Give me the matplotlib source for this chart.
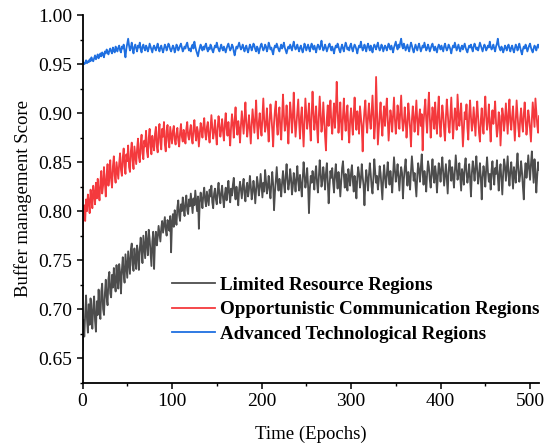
import numpy as np
import matplotlib
matplotlib.use("Agg")
import matplotlib.pyplot as plt
from matplotlib.ticker import MultipleLocator, FormatStrFormatter

# ---------------------------
# Data (one value per epoch, 0..510)
# ---------------------------
limited = [
    0.658, 0.689, 0.672, 0.695, 0.714, 0.690, 0.676, 0.705, 0.684, 0.711, 0.697, 0.680, 0.703, 0.713, 0.688, 0.677, 0.708, 0.694, 0.720, 0.699,
    0.690, 0.718, 0.726, 0.700, 0.694, 0.716, 0.730, 0.712, 0.704, 0.731, 0.738, 0.716, 0.712, 0.735, 0.722, 0.742, 0.727, 0.718, 0.745, 0.731,
    0.721, 0.746, 0.737, 0.716, 0.740, 0.753, 0.736, 0.727, 0.756, 0.744, 0.732, 0.759, 0.747, 0.736, 0.761, 0.767, 0.745, 0.739, 0.762, 0.750,
    0.741, 0.765, 0.757, 0.740, 0.762, 0.773, 0.759, 0.747, 0.775, 0.763, 0.752, 0.779, 0.768, 0.755, 0.781, 0.772, 0.758, 0.744, 0.769, 0.779,
    0.741, 0.770, 0.779, 0.765, 0.773, 0.785, 0.777, 0.769, 0.783, 0.790, 0.778, 0.786, 0.794, 0.781, 0.775, 0.791, 0.787, 0.780, 0.795, 0.758,
    0.789, 0.797, 0.784, 0.801, 0.793, 0.786, 0.804, 0.811, 0.796, 0.790, 0.807, 0.800, 0.814, 0.803, 0.795, 0.809, 0.816, 0.801, 0.797, 0.812,
    0.805, 0.818, 0.808, 0.798, 0.813, 0.806, 0.821, 0.810, 0.800, 0.815, 0.782, 0.809, 0.819, 0.812, 0.803, 0.817, 0.824, 0.811, 0.805, 0.820,
    0.813, 0.806, 0.822, 0.815, 0.826, 0.809, 0.803, 0.818, 0.823, 0.812, 0.807, 0.821, 0.829, 0.816, 0.808, 0.819, 0.826, 0.813, 0.804, 0.817,
    0.824, 0.811, 0.820, 0.831, 0.818, 0.809, 0.823, 0.816, 0.827, 0.834, 0.819, 0.812, 0.825, 0.817, 0.806, 0.822, 0.830, 0.821, 0.813, 0.826,
    0.833, 0.818, 0.810, 0.824, 0.829, 0.815, 0.822, 0.836, 0.826, 0.812, 0.819, 0.831, 0.823, 0.808, 0.821, 0.835, 0.828, 0.816, 0.824, 0.838,
    0.826, 0.814, 0.829, 0.820, 0.842, 0.831, 0.818, 0.825, 0.836, 0.822, 0.813, 0.828, 0.840, 0.827, 0.801, 0.819, 0.832, 0.845, 0.829, 0.821,
    0.833, 0.826, 0.815, 0.830, 0.841, 0.828, 0.819, 0.836, 0.848, 0.832, 0.822, 0.829, 0.843, 0.834, 0.817, 0.825, 0.839, 0.831, 0.820, 0.834,
    0.846, 0.830, 0.821, 0.837, 0.827, 0.815, 0.832, 0.850, 0.838, 0.824, 0.831, 0.844, 0.826, 0.798, 0.823, 0.836, 0.829, 0.841, 0.833, 0.822,
    0.838, 0.846, 0.829, 0.819, 0.834, 0.852, 0.840, 0.825, 0.831, 0.845, 0.836, 0.822, 0.839, 0.849, 0.830, 0.808, 0.826, 0.841, 0.834, 0.844,
    0.829, 0.819, 0.837, 0.848, 0.833, 0.823, 0.840, 0.832, 0.815, 0.829, 0.844, 0.851, 0.836, 0.824, 0.838, 0.830, 0.821, 0.843, 0.835, 0.826,
    0.839, 0.847, 0.831, 0.820, 0.836, 0.829, 0.813, 0.834, 0.845, 0.838, 0.824, 0.832, 0.848, 0.835, 0.826, 0.806, 0.829, 0.842, 0.833, 0.821,
    0.837, 0.849, 0.838, 0.825, 0.818, 0.834, 0.853, 0.840, 0.829, 0.836, 0.822, 0.831, 0.846, 0.839, 0.826, 0.812, 0.835, 0.847, 0.833, 0.824,
    0.838, 0.850, 0.836, 0.827, 0.841, 0.832, 0.819, 0.837, 0.855, 0.842, 0.830, 0.838, 0.848, 0.834, 0.821, 0.836, 0.845, 0.839, 0.813, 0.832,
    0.844, 0.853, 0.837, 0.826, 0.840, 0.834, 0.822, 0.841, 0.856, 0.843, 0.831, 0.839, 0.827, 0.815, 0.836, 0.849, 0.842, 0.830, 0.845, 0.858,
    0.839, 0.827, 0.841, 0.834, 0.820, 0.838, 0.851, 0.845, 0.832, 0.824, 0.840, 0.853, 0.836, 0.829, 0.846, 0.838, 0.819, 0.835, 0.849, 0.842,
    0.830, 0.844, 0.855, 0.839, 0.826, 0.837, 0.848, 0.833, 0.818, 0.840, 0.852, 0.843, 0.831, 0.845, 0.836, 0.824, 0.841, 0.857, 0.844, 0.832,
    0.838, 0.849, 0.835, 0.821, 0.843, 0.837, 0.827, 0.846, 0.854, 0.840, 0.829, 0.836, 0.848, 0.833, 0.815, 0.839, 0.851, 0.842, 0.831, 0.845,
    0.856, 0.841, 0.828, 0.837, 0.849, 0.834, 0.812, 0.835, 0.846, 0.839, 0.825, 0.843, 0.855, 0.840, 0.830, 0.838, 0.822, 0.842, 0.851, 0.836,
    0.827, 0.844, 0.838, 0.852, 0.835, 0.821, 0.840, 0.848, 0.833, 0.817, 0.839, 0.853, 0.846, 0.831, 0.843, 0.856, 0.837, 0.826, 0.841, 0.850,
    0.836, 0.823, 0.845, 0.838, 0.829, 0.847, 0.859, 0.842, 0.830, 0.837, 0.851, 0.840, 0.825, 0.812, 0.838, 0.849, 0.834, 0.843, 0.857, 0.845,
    0.832, 0.848, 0.861, 0.844, 0.829, 0.853, 0.840, 0.819, 0.836, 0.850, 0.842,
]

opportunistic = [
    0.775, 0.795, 0.806, 0.790, 0.812, 0.800, 0.817, 0.809, 0.798, 0.822, 0.814, 0.803, 0.826, 0.818, 0.807, 0.829, 0.813, 0.833, 0.820, 0.811,
    0.830, 0.841, 0.818, 0.826, 0.845, 0.829, 0.815, 0.837, 0.848, 0.826, 0.835, 0.852, 0.832, 0.824, 0.846, 0.856, 0.836, 0.829, 0.850, 0.841,
    0.833, 0.849, 0.859, 0.842, 0.836, 0.855, 0.864, 0.846, 0.838, 0.858, 0.851, 0.867, 0.845, 0.840, 0.861, 0.870, 0.852, 0.843, 0.866, 0.857,
    0.848, 0.864, 0.874, 0.855, 0.850, 0.869, 0.878, 0.859, 0.853, 0.872, 0.866, 0.882, 0.861, 0.855, 0.875, 0.884, 0.866, 0.858, 0.877, 0.869,
    0.862, 0.879, 0.886, 0.866, 0.860, 0.881, 0.889, 0.870, 0.863, 0.884, 0.876, 0.891, 0.868, 0.861, 0.882, 0.888, 0.872, 0.865, 0.886, 0.877,
    0.869, 0.882, 0.887, 0.873, 0.868, 0.879, 0.885, 0.872, 0.866, 0.880, 0.889, 0.876, 0.871, 0.883, 0.878, 0.869, 0.884, 0.891, 0.877, 0.873,
    0.882, 0.888, 0.874, 0.869, 0.885, 0.893, 0.879, 0.872, 0.886, 0.881, 0.866, 0.878, 0.890, 0.884, 0.875, 0.887, 0.895, 0.880, 0.873, 0.886,
    0.891, 0.877, 0.870, 0.884, 0.898, 0.886, 0.874, 0.881, 0.893, 0.879, 0.868, 0.885, 0.897, 0.888, 0.876, 0.883, 0.894, 0.881, 0.872, 0.889,
    0.900, 0.884, 0.877, 0.891, 0.880, 0.867, 0.886, 0.899, 0.889, 0.875, 0.893, 0.906, 0.887, 0.878, 0.892, 0.884, 0.870, 0.888, 0.902, 0.891,
    0.879, 0.894, 0.911, 0.890, 0.876, 0.886, 0.898, 0.883, 0.869, 0.889, 0.904, 0.892, 0.880, 0.895, 0.913, 0.888, 0.874, 0.891, 0.900, 0.885,
    0.877, 0.896, 0.915, 0.893, 0.881, 0.889, 0.905, 0.886, 0.871, 0.892, 0.909, 0.897, 0.883, 0.866, 0.890, 0.903, 0.912, 0.889, 0.878, 0.898,
    0.906, 0.884, 0.873, 0.895, 0.919, 0.898, 0.882, 0.890, 0.908, 0.887, 0.869, 0.893, 0.911, 0.899, 0.880, 0.897, 0.921, 0.894, 0.876, 0.889,
    0.903, 0.914, 0.891, 0.874, 0.896, 0.906, 0.885, 0.866, 0.892, 0.915, 0.900, 0.884, 0.895, 0.910, 0.888, 0.872, 0.899, 0.922, 0.901, 0.883,
    0.893, 0.907, 0.886, 0.870, 0.897, 0.917, 0.898, 0.881, 0.889, 0.911, 0.893, 0.876, 0.862, 0.895, 0.908, 0.887, 0.899, 0.913, 0.890, 0.879,
    0.896, 0.910, 0.885, 0.901, 0.932, 0.903, 0.880, 0.893, 0.911, 0.889, 0.873, 0.897, 0.915, 0.894, 0.882, 0.899, 0.908, 0.884, 0.870, 0.893,
    0.905, 0.890, 0.878, 0.899, 0.916, 0.895, 0.883, 0.902, 0.894, 0.879, 0.907, 0.896, 0.886, 0.861, 0.889, 0.903, 0.913, 0.891, 0.880, 0.897,
    0.910, 0.893, 0.884, 0.901, 0.918, 0.895, 0.874, 0.889, 0.937, 0.902, 0.868, 0.884, 0.899, 0.911, 0.890, 0.877, 0.896, 0.907, 0.887, 0.902,
    0.915, 0.893, 0.872, 0.888, 0.903, 0.896, 0.881, 0.899, 0.916, 0.894, 0.879, 0.891, 0.908, 0.897, 0.884, 0.901, 0.918, 0.895, 0.882, 0.890,
    0.906, 0.893, 0.875, 0.888, 0.910, 0.898, 0.884, 0.866, 0.893, 0.907, 0.895, 0.881, 0.898, 0.913, 0.892, 0.878, 0.895, 0.904, 0.887, 0.899,
    0.862, 0.889, 0.904, 0.914, 0.893, 0.880, 0.902, 0.921, 0.896, 0.875, 0.889, 0.906, 0.897, 0.884, 0.911, 0.893, 0.879, 0.900, 0.917, 0.890,
    0.876, 0.893, 0.908, 0.899, 0.883, 0.872, 0.896, 0.914, 0.901, 0.886, 0.880, 0.898, 0.916, 0.893, 0.874, 0.891, 0.905, 0.897, 0.883, 0.919,
    0.903, 0.887, 0.896, 0.910, 0.889, 0.866, 0.884, 0.901, 0.894, 0.909, 0.885, 0.873, 0.898, 0.913, 0.896, 0.882, 0.890, 0.906, 0.892, 0.877,
    0.898, 0.912, 0.895, 0.880, 0.871, 0.893, 0.905, 0.888, 0.879, 0.901, 0.917, 0.896, 0.883, 0.893, 0.909, 0.887, 0.871, 0.894, 0.903, 0.889,
    0.899, 0.912, 0.890, 0.876, 0.884, 0.901, 0.897, 0.867, 0.886, 0.905, 0.898, 0.882, 0.893, 0.910, 0.894, 0.879, 0.900, 0.914, 0.891, 0.883,
    0.897, 0.907, 0.889, 0.872, 0.892, 0.913, 0.898, 0.884, 0.876, 0.895, 0.905, 0.890, 0.881, 0.899, 0.911, 0.894, 0.878, 0.887, 0.903, 0.896,
    0.884, 0.871, 0.893, 0.911, 0.899, 0.886, 0.915, 0.902, 0.888, 0.880, 0.897,
]

advanced = [
    0.950, 0.952, 0.950, 0.951, 0.954, 0.951, 0.953, 0.952, 0.955, 0.953, 0.957, 0.954, 0.953, 0.956, 0.959, 0.955, 0.957, 0.960, 0.956, 0.958,
    0.961, 0.958, 0.962, 0.960, 0.957, 0.963, 0.961, 0.965, 0.962, 0.960, 0.964, 0.966, 0.963, 0.961, 0.967, 0.964, 0.962, 0.968, 0.965, 0.963,
    0.967, 0.969, 0.964, 0.962, 0.968, 0.966, 0.970, 0.963, 0.957, 0.966, 0.971, 0.976, 0.969, 0.964, 0.967, 0.972, 0.965, 0.961, 0.968, 0.970,
    0.966, 0.963, 0.969, 0.967, 0.972, 0.965, 0.962, 0.968, 0.970, 0.966, 0.964, 0.969, 0.967, 0.963, 0.966, 0.971, 0.968, 0.965, 0.962, 0.967,
    0.969, 0.966, 0.964, 0.968, 0.971, 0.966, 0.963, 0.967, 0.969, 0.965, 0.962, 0.966, 0.970, 0.968, 0.964, 0.967, 0.971, 0.969, 0.965, 0.963,
    0.966, 0.969, 0.967, 0.962, 0.965, 0.970, 0.968, 0.964, 0.966, 0.969, 0.971, 0.967, 0.963, 0.965, 0.968, 0.966, 0.970, 0.972, 0.967, 0.964,
    0.966, 0.963, 0.968, 0.970, 0.966, 0.973, 0.968, 0.964, 0.961, 0.958, 0.963, 0.967, 0.970, 0.966, 0.964, 0.968, 0.965, 0.969, 0.971, 0.966,
    0.963, 0.967, 0.965, 0.970, 0.968, 0.964, 0.962, 0.966, 0.969, 0.967, 0.972, 0.968, 0.965, 0.963, 0.967, 0.970, 0.966, 0.964, 0.968, 0.965,
    0.962, 0.966, 0.969, 0.971, 0.967, 0.964, 0.966, 0.970, 0.968, 0.963, 0.959, 0.964, 0.968, 0.966, 0.969, 0.972, 0.968, 0.965, 0.967, 0.970,
    0.966, 0.963, 0.967, 0.969, 0.965, 0.962, 0.966, 0.970, 0.968, 0.964, 0.967, 0.971, 0.969, 0.965, 0.963, 0.968, 0.966, 0.961, 0.965, 0.969,
    0.971, 0.967, 0.964, 0.966, 0.970, 0.968, 0.963, 0.966, 0.972, 0.969, 0.965, 0.967, 0.963, 0.960, 0.966, 0.969, 0.967, 0.971, 0.968, 0.965,
    0.963, 0.967, 0.970, 0.966, 0.968, 0.972, 0.967, 0.964, 0.961, 0.965, 0.968, 0.966, 0.970, 0.967, 0.964, 0.969, 0.973, 0.968, 0.965, 0.967,
    0.970, 0.966, 0.963, 0.967, 0.969, 0.965, 0.962, 0.966, 0.971, 0.968, 0.964, 0.967, 0.970, 0.966, 0.963, 0.968, 0.971, 0.967, 0.965, 0.969,
    0.966, 0.962, 0.967, 0.970, 0.968, 0.965, 0.969, 0.974, 0.968, 0.964, 0.966, 0.970, 0.967, 0.963, 0.966, 0.969, 0.971, 0.967, 0.964, 0.968,
    0.965, 0.961, 0.966, 0.969, 0.967, 0.971, 0.968, 0.964, 0.962, 0.967, 0.970, 0.966, 0.963, 0.968, 0.972, 0.969, 0.965, 0.967, 0.964, 0.969,
    0.971, 0.966, 0.963, 0.967, 0.970, 0.968, 0.965, 0.961, 0.966, 0.969, 0.967, 0.973, 0.968, 0.964, 0.966, 0.970, 0.967, 0.963, 0.968, 0.971,
    0.967, 0.964, 0.969, 0.966, 0.962, 0.967, 0.970, 0.968, 0.965, 0.969, 0.972, 0.967, 0.964, 0.966, 0.970, 0.968, 0.963, 0.966, 0.969, 0.967,
    0.964, 0.968, 0.971, 0.967, 0.965, 0.969, 0.966, 0.962, 0.967, 0.970, 0.973, 0.968, 0.965, 0.970, 0.967, 0.972, 0.976, 0.969, 0.966, 0.971,
    0.968, 0.964, 0.967, 0.970, 0.966, 0.963, 0.968, 0.972, 0.969, 0.965, 0.962, 0.966, 0.970, 0.967, 0.964, 0.968, 0.971, 0.967, 0.963, 0.966,
    0.969, 0.967, 0.972, 0.968, 0.964, 0.966, 0.970, 0.967, 0.963, 0.966, 0.969, 0.971, 0.967, 0.964, 0.968, 0.965, 0.962, 0.967, 0.970, 0.968,
    0.965, 0.969, 0.966, 0.963, 0.968, 0.971, 0.967, 0.964, 0.966, 0.970, 0.968, 0.965, 0.961, 0.966, 0.969, 0.967, 0.972, 0.968, 0.964, 0.967,
    0.970, 0.966, 0.963, 0.967, 0.969, 0.965, 0.968, 0.971, 0.967, 0.964, 0.962, 0.966, 0.969, 0.967, 0.970, 0.966, 0.963, 0.968, 0.971, 0.968,
    0.965, 0.967, 0.964, 0.968, 0.972, 0.969, 0.966, 0.963, 0.967, 0.970, 0.968, 0.964, 0.966, 0.969, 0.967, 0.973, 0.968, 0.965, 0.967, 0.970,
    0.966, 0.963, 0.968, 0.971, 0.976, 0.969, 0.966, 0.964, 0.968, 0.966, 0.962, 0.965, 0.969, 0.967, 0.964, 0.968, 0.970, 0.966, 0.963, 0.967,
    0.969, 0.965, 0.962, 0.966, 0.970, 0.968, 0.964, 0.967, 0.971, 0.967, 0.963, 0.960, 0.965, 0.968, 0.966, 0.970, 0.967, 0.963, 0.966, 0.969,
    0.971, 0.967, 0.964, 0.962, 0.966, 0.969, 0.967, 0.964, 0.968, 0.970, 0.967,
]

labels = [
    "Limited Resource Regions",
    "Opportunistic Communication Regions",
    "Advanced Technological Regions",
]
colors = ["#4d4d4d", "#f4393d", "#1f6fe0"]


# ---------------------------
# Plot
# ---------------------------
def main():
    plt.rcParams["font.family"] = ["Liberation Serif", "DejaVu Serif"]

    fig = plt.figure(figsize=(5.5, 4.47), dpi=100)
    ax = fig.add_axes([0.150, 0.144, 0.830, 0.822])

    for series, label, color in zip([limited, opportunistic, advanced], labels, colors):
        epochs = np.arange(len(series))
        ax.plot(epochs, series, color=color, lw=1.3, label=label)

    ax.set_xlim(0, 510)
    ax.set_ylim(0.625, 1.0)
    ax.xaxis.set_major_locator(MultipleLocator(100))
    ax.xaxis.set_minor_locator(MultipleLocator(50))
    ax.yaxis.set_major_locator(MultipleLocator(0.05))
    ax.yaxis.set_minor_locator(MultipleLocator(0.025))
    ax.yaxis.set_major_formatter(FormatStrFormatter("%.2f"))

    for side in ["top", "right"]:
        ax.spines[side].set_visible(False)
    for side in ["left", "bottom"]:
        ax.spines[side].set_linewidth(1.3)

    ax.tick_params(which="major", direction="out", length=4, width=1.1, labelsize=14)
    ax.tick_params(which="minor", direction="out", length=2.5, width=1.0)

    ax.set_xlabel("Time (Epochs)", fontsize=13.5, labelpad=11)
    ax.set_ylabel("Buffer management Score", fontsize=13.5, labelpad=4)

    ax.legend(loc="upper left", bbox_to_anchor=(0.197, 0.289), frameon=False,
              prop={"weight": "bold", "size": 13.7}, handlelength=2.25,
              handletextpad=0.25, labelspacing=0.38, borderpad=0, borderaxespad=0)

    fig.savefig("out.png", dpi=100)


if __name__ == "__main__":
    main()
